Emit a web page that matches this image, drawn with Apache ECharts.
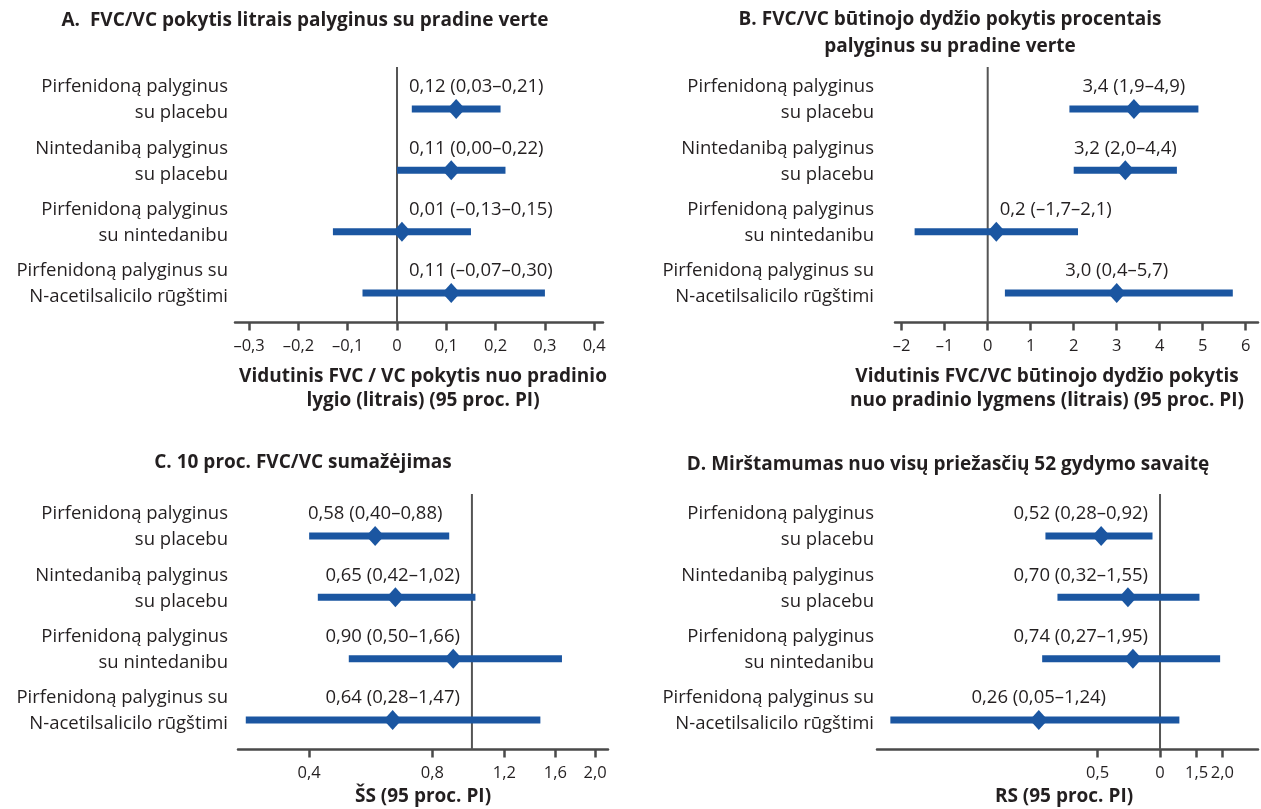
<!DOCTYPE html>
<html><head><meta charset="utf-8">
<script src="https://cdn.jsdelivr.net/npm/echarts@6/dist/echarts.min.js"></script>
<style>html,body{margin:0;padding:0;background:#fff}#c{width:1261px;height:809px}</style>
</head><body><div id="c"></div>
<script>
// ---------- data ----------
const categories = [
  'Pirfenidoną palyginus\nsu placebu',
  'Nintedanibą palyginus\nsu placebu',
  'Pirfenidoną palyginus\nsu nintedanibu',
  'Pirfenidoną palyginus su\nN-acetilsalicilo rūgštimi'
];

const aEst  = [0.12, 0.11, 0.01, 0.11];
const aLow  = [0.03, 0.00, -0.13, -0.07];
const aHigh = [0.21, 0.22, 0.15, 0.30];
const aText = ['0,12 (0,03–0,21)', '0,11 (0,00–0,22)', '0,01 (–0,13–0,15)', '0,11 (–0,07–0,30)'];
const aTicks = [-0.3, -0.2, -0.1, 0, 0.1, 0.2, 0.3, 0.4];
const aTickLabels = ['–0,3', '–0,2', '–0,1', '0', '0,1', '0,2', '0,3', '0,4'];

const bEst  = [3.4, 3.2, 0.2, 3.0];
const bLow  = [1.9, 2.0, -1.7, 0.4];
const bHigh = [4.9, 4.4, 2.1, 5.7];
const bText = ['3,4 (1,9–4,9)', '3,2 (2,0–4,4)', '0,2 (–1,7–2,1)', '3,0 (0,4–5,7)'];
const bTicks = [-2, -1, 0, 1, 2, 3, 4, 5, 6];
const bTickLabels = ['–2', '–1', '0', '1', '2', '3', '4', '5', '6'];

const cEst  = [0.58, 0.65, 0.90, 0.64];
const cLow  = [0.40, 0.42, 0.50, 0.28];
const cHigh = [0.88, 1.02, 1.66, 1.47];
const cText = ['0,58 (0,40–0,88)', '0,65 (0,42–1,02)', '0,90 (0,50–1,66)', '0,64 (0,28–1,47)'];
const cTicks = [0.4, 0.8, 1.2, 1.6, 2.0];
const cTickLabels = ['0,4', '0,8', '1,2', '1,6', '2,0'];

const dEst  = [0.52, 0.70, 0.74, 0.26];
const dLow  = [0.28, 0.32, 0.27, 0.05];
const dHigh = [0.92, 1.55, 1.95, 1.24];
const dText = ['0,52 (0,28–0,92)', '0,70 (0,32–1,55)', '0,74 (0,27–1,95)', '0,26 (0,05–1,24)'];
const dTicks = [0.5, 1.0, 1.5, 2.0];
const dTickLabels = ['0,5', '0', '1,5', '2,0'];

const titles = {
  a: 'A.  FVC/VC pokytis litrais palyginus su pradine verte',
  b: 'B. FVC/VC būtinojo dydžio pokytis procentais\npalyginus su pradine verte',
  c: 'C. 10 proc. FVC/VC sumažėjimas',
  d: 'D. Mirštamumas nuo visų priežasčių 52 gydymo savaitę'
};
const axisNames = {
  a: 'Vidutinis FVC / VC pokytis nuo pradinio\nlygio (litrais) (95 proc. PI)',
  b: 'Vidutinis FVC/VC būtinojo dydžio pokytis\nnuo pradinio lygmens (litrais) (95 proc. PI)',
  c: 'ŠS (95 proc. PI)',
  d: 'RS (95 proc. PI)'
};

// ---------- styling / layout ----------
const FONT = "'Open Sans', 'Noto Sans', sans-serif";
const BLUE = '#1b56a1';
const DARK = '#231f20';
const AXIS = '#4a4a4a';
const Y_MIN = 0.52, Y_MAX = 4.685;

const identity = v => v;
const panels = [
  { est: aEst, low: aLow, high: aHigh, text: aText, ticks: aTicks, tickLabels: aTickLabels, tf: identity, ref: 0,
    min: -0.3286, max: 0.4178, grid: { left: 235, top: 67, width: 368, height: 255.5 }, labelRight: 228 },
  { est: bEst, low: bLow, high: bHigh, text: bText, ticks: bTicks, tickLabels: bTickLabels, tf: identity, ref: 0,
    min: -2.156, max: 6.286, grid: { left: 895, top: 67, width: 363, height: 255.5 }, labelRight: 874 },
  { est: cEst, low: cLow, high: cHigh, text: cText, ticks: cTicks, tickLabels: cTickLabels, tf: Math.log, ref: 1,
    min: 0.268, max: 2.151, grid: { left: 238, top: 494, width: 370, height: 255.5 }, labelRight: 228 },
  { est: dEst, low: dLow, high: dHigh, text: dText, ticks: dTicks, tickLabels: dTickLabels, tf: Math.log, ref: 1,
    min: 0.0431, max: 2.97, grid: { left: 877, top: 494, width: 381, height: 255.5 }, labelRight: 874 }
];

const measureCtx = document.createElement('canvas').getContext('2d');
function textWidth(str, size) {
  measureCtx.font = 'normal ' + size + 'px ' + FONT;
  return measureCtx.measureText(str).width;
}

const LABEL_SIZE = 18.5;
const TICK_SIZE = 16.5;
const HEAD_SIZE = 19;
const GAP = 12;

const grids = [], xAxes = [], yAxes = [], series = [];
panels.forEach((p, k) => {
  grids.push(Object.assign({ containLabel: false }, p.grid));
  const tv = p.ticks.map(p.tf);
  xAxes.push({
    type: 'value', gridIndex: k, min: p.tf(p.min), max: p.tf(p.max),
    axisLine: { show: true, onZero: false, lineStyle: { color: AXIS, width: 2.5 } },
    axisTick: { show: true, customValues: tv, length: 8, lineStyle: { color: AXIS, width: 2.5 } },
    axisLabel: {
      show: true, customValues: tv, margin: 15, fontSize: TICK_SIZE, color: DARK, fontFamily: FONT,
      formatter: function (v) {
        let best = 0;
        tv.forEach((t, i) => { if (Math.abs(t - v) < Math.abs(tv[best] - v)) best = i; });
        return p.tickLabels[best];
      }
    },
    splitLine: { show: false }
  });
  yAxes.push({ type: 'value', gridIndex: k, min: Y_MIN, max: Y_MAX, show: false });

  // reference line
  series.push({
    type: 'line', xAxisIndex: k, yAxisIndex: k, silent: true, symbol: 'none',
    lineStyle: { color: '#555', width: 2 }, z: 1,
    data: [[p.tf(p.ref), Y_MIN], [p.tf(p.ref), Y_MAX]]
  });

  const rows = p.est.map((e, i) => [4 - i, p.tf(p.low[i]), p.tf(p.high[i]), p.tf(e), i]);
  series.push({
    type: 'custom', xAxisIndex: k, yAxisIndex: k, z: 3, silent: true,
    encode: { x: [1, 2, 3], y: 0 },
    data: rows,
    renderItem: function (params, api) {
      const row = api.value(0), i = api.value(4);
      const pLo = api.coord([api.value(1), row]);
      const pHi = api.coord([api.value(2), row]);
      const pEs = api.coord([api.value(3), row]);
      const refX = api.coord([p.tf(p.ref), row])[0];
      const y = pEs[1];
      const txt = p.text[i];
      const w = textWidth(txt, LABEL_SIZE);
      let tx = pEs[0], align = 'center';
      if (p.est[i] >= p.ref) {
        if (pEs[0] - w / 2 < refX + GAP) { tx = refX + GAP; align = 'left'; }
      } else {
        if (pEs[0] + w / 2 > refX - GAP) { tx = refX - GAP; align = 'right'; }
      }
      const hw = 9, hh = 10;
      return {
        type: 'group',
        children: [
          { type: 'line', shape: { x1: pLo[0], y1: y, x2: pHi[0], y2: y },
            style: { stroke: BLUE, lineWidth: 7, lineCap: 'butt' } },
          { type: 'polygon', shape: { points: [[pEs[0], y - hh], [pEs[0] + hw, y], [pEs[0], y + hh], [pEs[0] - hw, y]] },
            style: { fill: BLUE } },
          { type: 'text', x: tx, y: y - 22,
            style: { text: txt, fill: DARK, fontSize: LABEL_SIZE, fontFamily: FONT, align: align, verticalAlign: 'middle' } },
          { type: 'text', x: p.labelRight, y: y - 9,
            style: { text: categories[i], fill: DARK, fontSize: LABEL_SIZE, fontFamily: FONT, align: 'right',
                     verticalAlign: 'middle', lineHeight: 26 } }
        ]
      };
    }
  });
});

function headText(str, x, y, size, lh) {
  return { type: 'text', x: x, y: y, silent: true,
    style: { text: str, fill: DARK, fontSize: size, fontWeight: 'bold', fontFamily: FONT,
             align: 'center', verticalAlign: 'middle', lineHeight: lh || size * 1.5 } };
}

const chart = echarts.init(document.getElementById('c'), null, { renderer: 'canvas' });
chart.setOption({
  backgroundColor: '#ffffff',
  animation: false,
  grid: grids, xAxis: xAxes, yAxis: yAxes, series: series,
  graphic: [
    headText(titles.a, 305, 21, HEAD_SIZE),
    headText(titles.b, 950, 33.5, HEAD_SIZE, 27),
    headText(titles.c, 303, 463, HEAD_SIZE),
    headText(titles.d, 948, 465, HEAD_SIZE),
    headText(axisNames.a, 423, 389, HEAD_SIZE, 24),
    headText(axisNames.b, 1047, 389, HEAD_SIZE, 24),
    headText(axisNames.c, 423, 797, HEAD_SIZE),
    headText(axisNames.d, 1064, 797, HEAD_SIZE)
  ]
});
</script></body></html>
